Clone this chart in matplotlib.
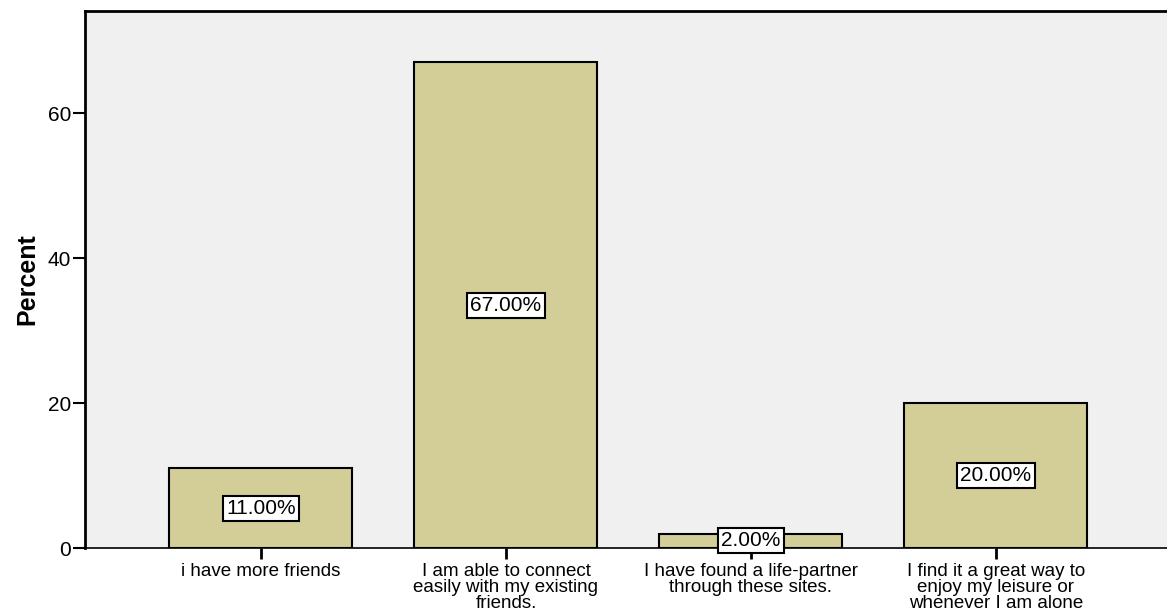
import matplotlib.pyplot as plt
from matplotlib import rcParams

rcParams['font.family'] = ['Liberation Sans', 'DejaVu Sans']

categories = [
    "i have more friends",
    "I am able to connect\neasily with my existing\nfriends.",
    "I have found a life-partner\nthrough these sites.",
    "I find it a great way to\nenjoy my leisure or\nwhenever I am alone",
]
percents = [11.0, 67.0, 2.0, 20.0]
yticks = [0, 20, 40, 60]


def main():
    fig = plt.figure(figsize=(11.67, 6.16), dpi=100)
    ax = fig.add_axes([85 / 1167, 1 - 548 / 616, 1 - 85 / 1167, (548 - 11) / 616])
    ax.set_facecolor("#F0F0F0")

    x = list(range(len(categories)))
    ax.bar(x, percents, width=0.747, color="#D3CE97", edgecolor="black",
           linewidth=1.5, zorder=2)

    for xi, v in zip(x, percents):
        ax.text(xi, v / 2, f"{v:.2f}%", ha="center", va="center", fontsize=15,
                zorder=4,
                bbox=dict(boxstyle="square,pad=0.15", facecolor="white",
                          edgecolor="black", linewidth=1.5))

    ax.set_xlim(-0.718, 3.698)
    ax.set_ylim(0, 74.07)
    ax.set_xticks(x)
    ax.set_xticklabels(categories, fontsize=13.5, linespacing=0.92, va="top")
    ax.set_yticks(yticks)
    ax.tick_params(axis="y", length=9, width=1.5, labelsize=15, pad=1)
    ax.tick_params(axis="x", length=8, width=2, pad=3)
    ax.set_ylabel("Percent", fontsize=18, fontweight="bold", labelpad=6)

    ax.spines["right"].set_visible(False)
    ax.spines["left"].set_linewidth(2)
    ax.spines["top"].set_linewidth(2)
    ax.spines["bottom"].set_linewidth(1.2)

    fig.savefig("out.png", dpi=100)


if __name__ == "__main__":
    main()
